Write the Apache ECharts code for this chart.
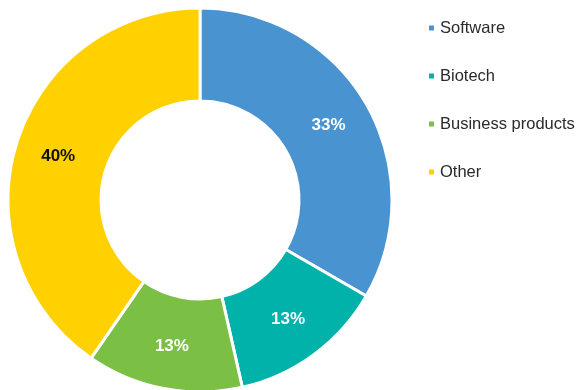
<!DOCTYPE html>
<html>
<head>
<meta charset="utf-8">
<style>
  html, body { margin: 0; padding: 0; background: #ffffff; }
  #chart { width: 579px; height: 390px; }
</style>
<script src="https://cdn.jsdelivr.net/npm/echarts@6/dist/echarts.min.js"></script>
</head>
<body>
<div id="chart"></div>
<script>
// Sector breakdown, percent of total
const categories = ['Software', 'Biotech', 'Business products', 'Other'];
const shares = [33, 13, 13, 40];
const colors = ['#4993d0', '#00b2aa', '#7bbf44', '#ffd100'];
const labelColors = ['#ffffff', '#ffffff', '#ffffff', '#111111'];

const chart = echarts.init(document.getElementById('chart'), null, { renderer: 'canvas' });

const data = categories.map((name, i) => ({
  name: name,
  value: shares[i],
  itemStyle: { color: colors[i] },
  label: { color: labelColors[i] }
}));

chart.setOption({
  animation: false,
  legend: {
    orient: 'vertical',
    left: 427,
    top: 19,
    padding: 0,
    icon: 'rect',
    itemWidth: 7,
    itemHeight: 7,
    itemGap: 30,
    textStyle: {
      fontFamily: 'Liberation Sans, Arial, sans-serif',
      fontSize: 16.5,
      color: '#2a2a2a',
      lineHeight: 18,
      padding: [0, 0, 0, 0]
    },
    data: categories
  },
  series: [{
    type: 'pie',
    center: [200, 200],
    radius: [99, 192],
    startAngle: 90,
    clockwise: true,
    avoidLabelOverlap: false,
    itemStyle: { borderColor: '#ffffff', borderWidth: 3 },
    label: {
      show: true,
      position: 'inside',
      formatter: p => shares[p.dataIndex] + '%',
      fontFamily: 'Liberation Sans, Arial, sans-serif',
      fontSize: 17,
      fontWeight: 'bold'
    },
    labelLine: { show: false },
    emphasis: { disabled: true },
    data: data
  }]
});
</script>
</body>
</html>
